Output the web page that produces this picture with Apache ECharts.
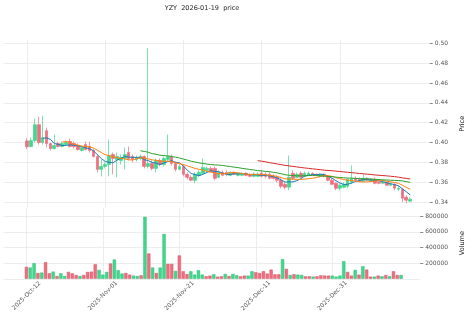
<!DOCTYPE html>
<html><head><meta charset="utf-8">
<script src="https://cdn.jsdelivr.net/npm/echarts@6/dist/echarts.min.js"></script>
<style>html,body{margin:0;padding:0;background:#fff}#c{width:474px;height:314px}</style>
</head><body><div id="c"></div>
<script>
const opens = [.4017,.3960,.4020,.4180,.4000,.4120,.3990,.3940,.3990,.3960,
.3980,.4010,.3990,.3970,.3920,.3980,.3960,.3920,.3860,.3730,
.3760,.3780,.3880,.3830,.3820,.3840,.3900,.3860,.3830,.3840,
.3860,.3760,.3790,.3740,.3820,.3780,.3830,.3860,.3790,.3730,
.3760,.3680,.3650,.3620,.3670,.3690,.3720,.3740,.3740,.3650,
.3700,.3700,.3670,.3700,.3670,.3670,.3690,.3680,.3660,.3660,
.3690,.3680,.3680,.3660,.3650,.3620,.3580,.3550,.3690,.3650,
.3690,.3660,.3670,.3690,.3680,.3660,.3680,.3660,.3620,.3590,
.3540,.3550,.3560,.3600,.3640,.3630,.3610,.3640,.3610,.3630,
.3600,.3590,.3600,.3570,.3580,.3530,.3530,.3450,.3410];
const closes = [.3957,.4020,.4180,.4000,.4050,.3990,.3940,.3970,.3960,.3990,
.4000,.3960,.3960,.3930,.3950,.3930,.3920,.3860,.3730,.3760,
.3780,.3870,.3840,.3860,.3850,.3880,.3840,.3830,.3850,.3860,
.3760,.3790,.3740,.3820,.3780,.3840,.3860,.3790,.3730,.3760,
.3680,.3650,.3620,.3680,.3700,.3750,.3740,.3710,.3640,.3700,
.3670,.3680,.3700,.3680,.3690,.3680,.3670,.3660,.3680,.3680,
.3660,.3660,.3640,.3640,.3620,.3560,.3550,.3650,.3640,.3680,
.3650,.3690,.3690,.3680,.3670,.3680,.3660,.3620,.3580,.3540,
.3570,.3580,.3630,.3640,.3620,.3610,.3640,.3620,.3630,.3590,
.3590,.3600,.3570,.3580,.3540,.3540,.3440,.3420,.3430];
const highs = [.4043,.4050,.4240,.4260,.4270,.4150,.4000,.4080,.4010,.4010,
.4020,.4040,.4010,.3990,.3970,.4010,.4010,.3940,.3880,.3830,
.3800,.4030,.3900,.3900,.3880,.3950,.3960,.3880,.3870,.3880,
.3870,.4950,.3820,.3840,.3840,.3860,.4080,.3880,.3810,.3780,
.3780,.3700,.3670,.3700,.3720,.3840,.3760,.3760,.3760,.3720,
.3720,.3720,.3710,.3710,.3700,.3700,.3700,.3690,.3700,.3700,
.3720,.3700,.3710,.3680,.3670,.3640,.3600,.3870,.3720,.3700,
.3710,.3710,.3710,.3700,.3690,.3690,.3690,.3670,.3640,.3600,
.3590,.3600,.3640,.3770,.3660,.3650,.3680,.3650,.3640,.3650,
.3610,.3620,.3610,.3600,.3590,.3560,.3540,.3470,.3450];
const lows = [.3933,.3950,.4000,.3980,.3980,.3950,.3920,.3930,.3950,.3950,
.3970,.3950,.3940,.3920,.3910,.3920,.3900,.3850,.3700,.3660,
.3740,.3660,.3680,.3650,.3780,.3730,.3820,.3800,.3810,.3820,
.3740,.3740,.3720,.3700,.3760,.3760,.3810,.3770,.3710,.3720,
.3660,.3630,.3610,.3590,.3650,.3680,.3700,.3700,.3620,.3640,
.3660,.3660,.3660,.3670,.3660,.3660,.3660,.3650,.3650,.3650,
.3650,.3640,.3630,.3630,.3600,.3540,.3530,.3520,.3620,.3640,
.3640,.3650,.3660,.3670,.3660,.3650,.3650,.3610,.3570,.3520,
.3520,.3540,.3540,.3580,.3600,.3600,.3600,.3610,.3600,.3580,
.3580,.3580,.3560,.3560,.3520,.3510,.3400,.3390,.3400];
const volumes = [153000,144000,200000,75000,80000,213000,71000,92000,36000,71000,
36000,88000,71000,49000,36000,49000,88000,92000,187000,114000,
54000,88000,196000,247000,109000,67000,75000,54000,41000,36000,
45000,793000,325000,144000,75000,144000,574000,191000,191000,101000,
299000,97000,62000,97000,54000,109000,54000,32000,41000,58000,
28000,32000,62000,36000,62000,45000,32000,41000,41000,97000,
84000,75000,97000,67000,118000,58000,58000,251000,127000,49000,
58000,54000,49000,32000,32000,28000,32000,45000,41000,41000,
41000,28000,41000,225000,88000,41000,114000,54000,161000,118000,
28000,28000,41000,32000,49000,32000,97000,49000,49000];
const tickLabels = ['2025-Oct-12','2025-Nov-01','2025-Nov-21','2025-Dec-11','2025-Dec-31'];
const maPeriods = [5, 10, 30, 60];
const maColors = ['#1f77b4', '#ff7f0e', '#2ca02c', '#d62728'];
const upColor = '#3fd88c', downColor = '#ec6f80';
const upEdge = '#3fd88c', downEdge = '#ec6f80';
const PAD_BEFORE = 6, PAD_AFTER = 5;

const months = ['Jan','Feb','Mar','Apr','May','Jun','Jul','Aug','Sep','Oct','Nov','Dec'];
function fmt(d){ return d.getUTCFullYear() + '-' + months[d.getUTCMonth()] + '-' + String(d.getUTCDate()).padStart(2,'0'); }
const start = Date.UTC(2025, 9, 12);
const n = closes.length;
const cats = [];
for (let i = -PAD_BEFORE; i < n + PAD_AFTER; i++) cats.push(fmt(new Date(start + i*86400000)));
const pad = arr => Array(PAD_BEFORE).fill('-').concat(arr, Array(PAD_AFTER).fill('-'));

const kData = pad(closes.map((c,i)=>[opens[i], c, lows[i], highs[i]]));
const vData = pad(volumes.map((v,i)=>({value: v, itemStyle: {color: closes[i] >= opens[i] ? upColor : downColor, borderColor: closes[i] >= opens[i] ? '#2fbf77' : '#d85a6c', borderWidth: 0.5}})));
function ma(p){
  return closes.map((c,i)=>{ if (i < p-1) return '-'; let s=0; for(let k=i-p+1;k<=i;k++) s+=closes[k]; return +(s/p).toFixed(5); });
}
const showTick = (idx, val) => tickLabels.indexOf(val) >= 0;

const chart = echarts.init(document.getElementById('c'), null, {renderer:'canvas'});
const axisLabelColor = '#555';
const gridColor = '#e8e8e8';
const none = 'rgba(0,0,0,0)';
chart.setOption({
  animation: false,
  title: {text: 'YZY  2026-01-19  price', left: 197, top: 0, textAlign: 'center',
    textStyle: {fontSize: 6.5, fontWeight: 'normal', color: '#222', fontFamily: 'DejaVu Sans'}},
  grid: [
    {left: 3.5, right: 38.1, top: 40, height: 167.5},
    {left: 3.5, right: 38.1, top: 207.5, height: 71.3}
  ],
  xAxis: [
    {type:'category', data: cats, gridIndex:0, boundaryGap:false,
     axisLine:{show:false}, axisTick:{show:false}, axisLabel:{show:false},
     splitLine:{show:true, interval: showTick, lineStyle:{color:gridColor, width:0.8}}},
    {type:'category', data: cats, gridIndex:1, boundaryGap:false,
     axisLine:{show:false}, axisTick:{show:false},
     axisLabel:{show:true, interval: showTick, rotate:45, align:'center', verticalAlign:'middle', margin:17,
       fontSize:6, color:axisLabelColor, fontFamily:'DejaVu Sans'},
     splitLine:{show:true, interval: showTick, lineStyle:{color:gridColor, width:0.8}}}
  ],
  yAxis: [
    {type:'value', gridIndex:0, position:'right', min:0.3346, max:0.5033, minInterval:0.02, maxInterval:0.02,
     axisLine:{show:false}, axisTick:{show:true, length:3, lineStyle:{color:'#888'}},
     axisLabel:{fontSize:6, color:axisLabelColor, margin:5, showMinLabel:false, showMaxLabel:false, fontFamily:'DejaVu Sans',
       formatter: v => v.toFixed(2)},
     splitLine:{lineStyle:{color:[none, gridColor, gridColor, gridColor, gridColor, gridColor, gridColor, gridColor, gridColor, gridColor, none], width:0.8}},
     name:'Price', nameLocation:'middle', nameGap:23, nameRotate:90,
     nameTextStyle:{fontSize:6.5, color:'#222', fontFamily:'DejaVu Sans'}},
    {type:'value', gridIndex:1, position:'right', min:0, max:912000, interval:200000,
     axisLine:{show:false}, axisTick:{show:true, length:3, lineStyle:{color:'#888'}},
     axisLabel:{fontSize:6, color:axisLabelColor, margin:5, showMinLabel:false, showMaxLabel:false, fontFamily:'DejaVu Sans',
       formatter: v => String(v)},
     splitLine:{lineStyle:{color:[gridColor, gridColor, gridColor, gridColor, gridColor, none], width:0.8}},
     name:'Volume', nameLocation:'middle', nameGap:31, nameRotate:90,
     nameTextStyle:{fontSize:6.5, color:'#222', fontFamily:'DejaVu Sans'}}
  ],
  series: [
    {type:'candlestick', xAxisIndex:0, yAxisIndex:0, data:kData, barWidth:3.2,
     itemStyle:{color:upColor, color0:downColor, borderColor:upEdge, borderColor0:downEdge, borderWidth:0.7}},
    ...maPeriods.map((p,j)=>({type:'line', xAxisIndex:0, yAxisIndex:0, data: pad(ma(p)), showSymbol:false,
      lineStyle:{width:1, color:maColors[j]}, itemStyle:{color:maColors[j]}, z:3})),
    {type:'bar', xAxisIndex:1, yAxisIndex:1, data:vData, barWidth:3.3}
  ]
});
</script></body></html>
